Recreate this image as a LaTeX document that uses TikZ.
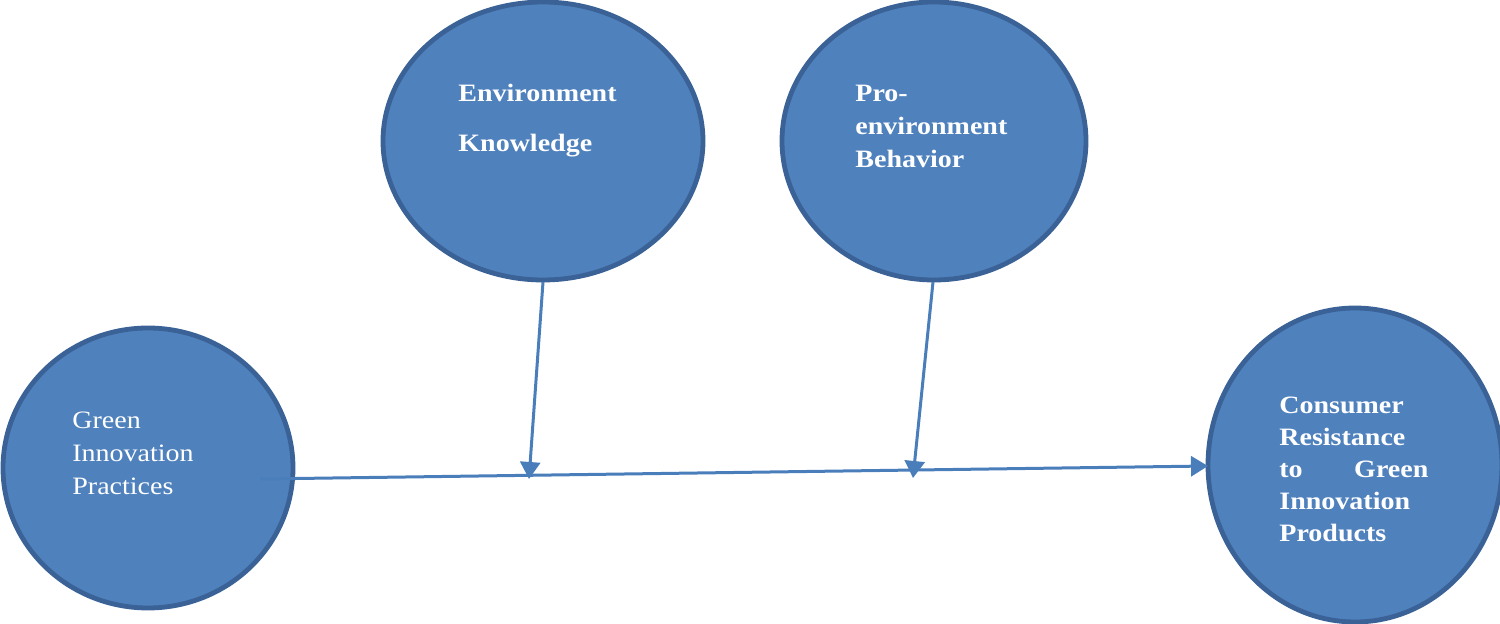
\documentclass[tikz,border=0pt]{standalone}
\usepackage{fontspec}
\setmainfont{Liberation Serif}
\usetikzlibrary{shapes.geometric,arrows.meta}
\definecolor{fillblue}{HTML}{4F81BD}
\definecolor{edgeblue}{HTML}{3A6296}
\definecolor{linkblue}{HTML}{4A7EBB}
\begin{document}
\begin{tikzpicture}[x=0.5pt,y=-0.5pt,
  bubble/.style={ellipse,draw=edgeblue,fill=fillblue,line width=2.4pt,inner sep=0pt,outer sep=0pt},
  lbl/.style={anchor=base west,inner sep=0pt,text=white,font=\fontsize{12.5pt}{15pt}\selectfont},
  blbl/.style={anchor=base west,inner sep=0pt,text=white,font=\fontsize{12.5pt}{15pt}\selectfont\bfseries},
  link/.style={draw=linkblue,line width=1.5pt,-{Triangle[width=10pt,length=8.5pt]}}]
\useasboundingbox (0,0) rectangle (1500,624);
% bubbles
\node[bubble,minimum width=145pt,minimum height=140pt] (gip) at (148,468) {};
\node[bubble,minimum width=160pt,minimum height=139pt] (ek) at (543,141) {};
\node[bubble,minimum width=152pt,minimum height=139pt] (pb) at (934,141) {};
\node[bubble,minimum width=147pt,minimum height=157pt] (cr) at (1355,465) {};
% labels
\node[lbl] (gip1) at (72,429) {\scalebox{1.12}[1]{Green}};
\node[lbl] (gip2) at (72,462) {\scalebox{1.12}[1]{Innovation}};
\node[lbl] (gip3) at (72,495) {\scalebox{1.12}[1]{Practices}};
\node[blbl] (ek1) at (458,102) {\scalebox{1.12}[1]{Environment}};
\node[blbl] (ek2) at (458,152) {\scalebox{1.12}[1]{Knowledge}};
\node[blbl] (pb1) at (855,102) {\scalebox{1.12}[1]{Pro-}};
\node[blbl] (pb2) at (855,135) {\scalebox{1.12}[1]{environment}};
\node[blbl] (pb3) at (855,168) {\scalebox{1.12}[1]{Behavior}};
\node[blbl] (cr1) at (1279,414) {\scalebox{1.12}[1]{Consumer}};
\node[blbl] (cr2) at (1279,446) {\scalebox{1.12}[1]{Resistance}};
\node[blbl] (cr3) at (1279,478) {\scalebox{1.12}[1]{\makebox[66.5pt][s]{to\hfill Green}}};
\node[blbl] (cr4) at (1279,510) {\scalebox{1.12}[1]{Innovation}};
\node[blbl] (cr5) at (1279,542) {\scalebox{1.12}[1]{Products}};
% connectors
\coordinate (gipout) at (260,479);
\coordinate (crin) at (1208,466);
\coordinate (ekout) at (543,282);
\coordinate (ektip) at (529,479);
\coordinate (pbout) at (933,282);
\coordinate (pbtip) at (913,478);
\draw[link] (gipout) -- (crin);
\draw[link] (ekout) -- (ektip);
\draw[link] (pbout) -- (pbtip);
\end{tikzpicture}
\end{document}
